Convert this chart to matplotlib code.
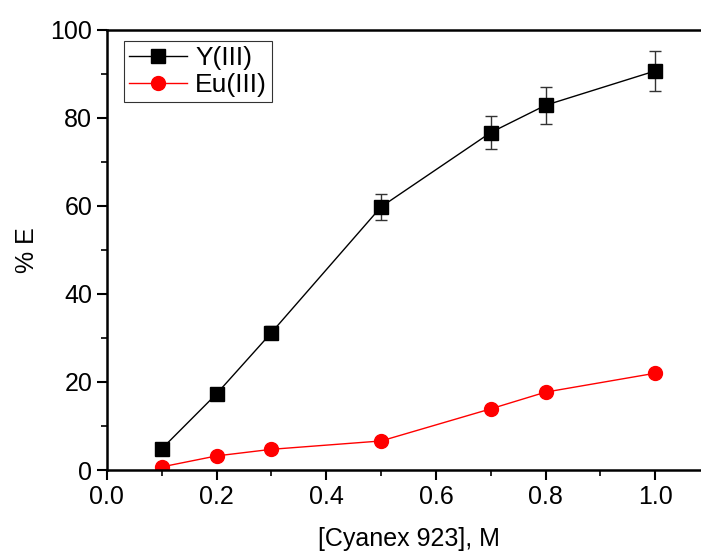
import matplotlib
matplotlib.use("Agg")
from matplotlib import pyplot as plt  # noqa
from matplotlib.ticker import MultipleLocator

plt.rcParams['font.family'] = ['Liberation Sans', 'DejaVu Sans']

conc = [0.1, 0.2, 0.3, 0.5, 0.7, 0.8, 1.0]
y_ext = [4.8, 17.3, 31.2, 59.8, 76.7, 82.9, 90.7]
y_err = [0.4, 0.5, 1.5, 3.0, 3.8, 4.2, 4.5]
eu_ext = [0.7, 3.2, 4.7, 6.6, 13.9, 17.7, 22.0]

fig = plt.figure(figsize=(7.01, 5.51), dpi=100)
ax = fig.add_axes([0.1524, 0.147, 0.8607, 0.7986])

y_bars = ax.errorbar(conc, y_ext, yerr=y_err, color='black', marker='s', markersize=9.5,
                     linewidth=1, capsize=4, elinewidth=1, ecolor='#333333')
eu_line, = ax.plot(conc, eu_ext, color='red', marker='o', markersize=10, linewidth=1)

ax.set_xlim(0, 1.1)
ax.set_ylim(0, 100)
ax.xaxis.set_major_locator(MultipleLocator(0.2))
ax.xaxis.set_minor_locator(MultipleLocator(0.1))
ax.yaxis.set_major_locator(MultipleLocator(20))
ax.yaxis.set_minor_locator(MultipleLocator(10))
ax.tick_params(which='major', direction='out', length=7, width=1.5, labelsize=18)
ax.tick_params(which='minor', direction='out', length=4, width=1.2)
for s in ax.spines.values():
    s.set_linewidth(1.8)

ax.set_xlabel('[Cyanex 923], M', fontsize=18, labelpad=13)
ax.set_ylabel('% E', fontsize=18, labelpad=8)

leg = ax.legend([y_bars[0], eu_line], ['Y(III)', 'Eu(III)'], loc='upper left',
                bbox_to_anchor=(0.0285, 0.975), fontsize=19, frameon=True,
                fancybox=False, edgecolor='black', handlelength=2.2, borderpad=0.2,
                labelspacing=0.1, handletextpad=0.3, borderaxespad=0)
leg.get_frame().set_linewidth(0.8)

fig.savefig('out.png', dpi=100)
